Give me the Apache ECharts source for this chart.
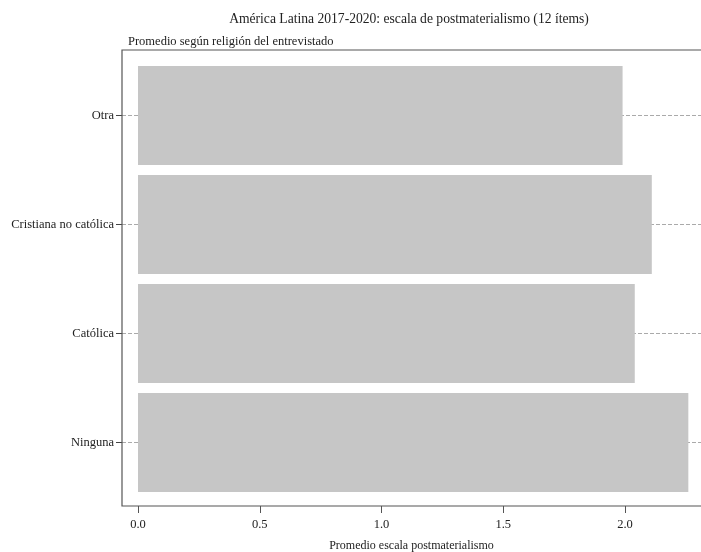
<!DOCTYPE html>
<html><head><meta charset="utf-8">
<script src="https://cdn.jsdelivr.net/npm/echarts@6/dist/echarts.min.js"></script>
<style>html,body{margin:0;padding:0;background:#fff}#c{width:701px;height:552px}</style>
</head><body><div id="c"></div>
<script>
const categories = ['Otra', 'Cristiana no católica', 'Católica', 'Ninguna'];
const values = [1.99, 2.11, 2.04, 2.26];
const tickValues = [0, 0.5, 1, 1.5, 2];

const chart = echarts.init(document.getElementById('c'), null, {renderer: 'canvas'});
const font = '"Liberation Serif", "DejaVu Serif", serif';
chart.setOption({
  animation: false,
  backgroundColor: '#fff',
  textStyle: {fontFamily: font},
  title: [
    {text: 'América Latina 2017-2020: escala de postmaterialismo (12 ítems)', left: 404, top: 7, textAlign: 'center',
     textStyle: {fontFamily: font, fontSize: 13.6, fontWeight: 'normal', color: '#222'}},
    {text: 'Promedio según religión del entrevistado', left: 123, top: 30,
     textStyle: {fontFamily: font, fontSize: 12.5, fontWeight: 'normal', color: '#222'}}
  ],
  graphic: [{type: 'rect', shape: {x: 122, y: 50, width: 590, height: 456}, style: {fill: 'none', stroke: '#555', lineWidth: 1.2}, z: 10, silent: true}],
  grid: {left: 122, right: 0, top: 115.5, bottom: 109.5, outerBoundsMode: 'none', containLabel: false},
  xAxis: {
    type: 'value', min: -0.0657, max: 2.312, offset: 63.5,
    name: 'Promedio escala postmaterialismo', nameLocation: 'middle', nameGap: 34,
    nameTextStyle: {fontFamily: font, fontSize: 12, color: '#222'},
    axisLine: {show: false, onZero: false},
    axisTick: {show: true, length: 7, customValues: tickValues, lineStyle: {color: '#555'}},
    axisLabel: {customValues: tickValues, fontFamily: font, fontSize: 12.5, color: '#222', margin: 12,
      formatter: v => v.toFixed(1)},
    splitLine: {show: false}
  },
  yAxis: {
    type: 'category', data: categories, inverse: true, boundaryGap: false,
    axisLine: {show: false, onZero: false},
    axisTick: {show: true, length: 6, lineStyle: {color: '#444', width: 1}},
    axisLabel: {fontFamily: font, fontSize: 12.5, color: '#222', margin: 8},
    splitLine: {show: true, lineStyle: {color: '#aaa', type: [4, 2], width: 1}}
  },
  series: [{
    type: 'bar', data: values, barWidth: 99, clip: false,
    itemStyle: {color: '#c6c6c6'}, z: 2
  }]
});
</script></body></html>
